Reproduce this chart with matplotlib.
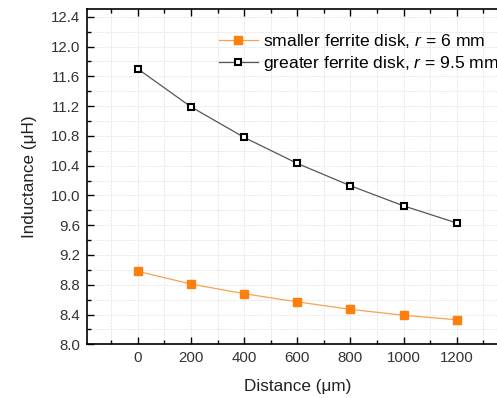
import matplotlib

matplotlib.use("Agg")
import matplotlib.pyplot as plt
from matplotlib.ticker import MultipleLocator

plt.rcParams["font.family"] = ["Liberation Sans", "DejaVu Sans"]
plt.rcParams["mathtext.fontset"] = "custom"
plt.rcParams["mathtext.it"] = "Liberation Sans:italic"
plt.rcParams["mathtext.rm"] = "Liberation Sans"

distance = [0, 200, 400, 600, 800, 1000, 1200]
smaller_disk = [8.98, 8.81, 8.68, 8.57, 8.47, 8.39, 8.33]
greater_disk = [11.70, 11.19, 10.78, 10.43, 10.13, 9.86, 9.63]
labels = ["smaller ferrite disk, $\\mathit{r}$ = 6 mm",
          "greater ferrite disk, $\\mathit{r}$ = 9.5 mm"]

fig = plt.figure(figsize=(4.97, 3.98), dpi=100)
ax = fig.add_axes([0.1757, 0.1349, 0.8447, 0.8417])

ax.plot(distance, smaller_disk, color="#F5A350", lw=0.9, marker="s", ms=5.5,
        mfc="#FF7F0E", mec="#FF7F0E", label=labels[0])
ax.plot(distance, greater_disk, color="#555555", lw=0.9, marker="s", ms=4.8,
        mfc="white", mec="black", mew=1.5, label=labels[1])

ax.set_xlim(-190, 1390)
ax.set_ylim(8.0, 12.5)
ax.xaxis.set_major_locator(MultipleLocator(200))
ax.xaxis.set_minor_locator(MultipleLocator(100))
ax.yaxis.set_major_locator(MultipleLocator(0.4))
ax.yaxis.set_minor_locator(MultipleLocator(0.2))
ax.yaxis.set_major_formatter(plt.FormatStrFormatter("%.1f"))

ax.grid(which="both", color="#e8e8e8", lw=0.7, ls=(0, (2, 1)))
ax.set_axisbelow(True)

ax.tick_params(which="both", direction="in", top=True, right=False,
               labelsize=10.8, labelcolor="#333333", width=1.0, pad=5)
ax.tick_params(which="major", length=5)
ax.tick_params(which="minor", length=3)
for side in ["left", "bottom", "top"]:
    ax.spines[side].set_linewidth(1.2)
ax.spines["right"].set_visible(False)

ax.set_xlabel("Distance (\u03bcm)", fontsize=12.3, color="#222222", labelpad=10)
ax.set_ylabel("Inductance (\u03bcH)", fontsize=12.3, color="#222222", labelpad=10)

# legend sits near the top right; the reference crops its longer label at the edge
ax.legend(loc="upper left", bbox_to_anchor=(0.297, 0.952), frameon=False,
          fontsize=12.6, handlelength=2.2, handletextpad=0.3, labelspacing=0.2,
          borderaxespad=0)

fig.savefig("out.png", dpi=100)
